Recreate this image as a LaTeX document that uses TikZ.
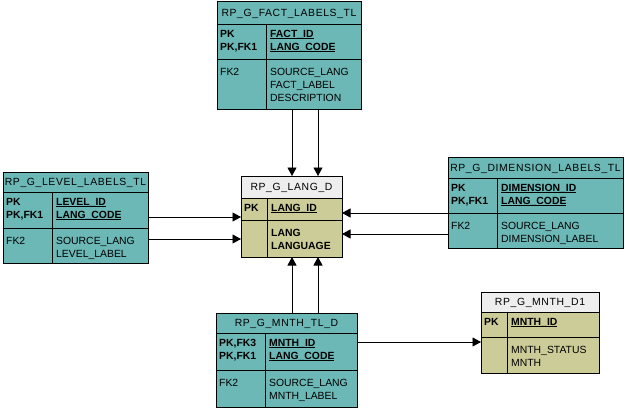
\documentclass[tikz,border=0pt]{standalone}
\usepackage{fontspec}
\setmainfont{Liberation Sans}
\newfontfamily\ttlfont[LetterSpace=6]{Liberation Sans}
\usetikzlibrary{arrows.meta}
\definecolor{tealbody}{RGB}{108,184,182}
\definecolor{tealtitle}{RGB}{108,184,182}
\definecolor{khakibody}{RGB}{204,204,153}
\definecolor{khakititle}{RGB}{238,238,238}
\newcommand\ulin[1]{\setbox0\hbox{#1}\rlap{\rule[-2.2pt]{\wd0}{0.9pt}}\box0}
\newcommand\cell[1]{\begin{tabular}[t]{@{}l@{}}#1\end{tabular}}
\newcommand\erbox[9]{%
 \node[draw=none, fill=#9body, anchor=north west, inner sep=0pt, outer sep=0pt,
   minimum width=#4pt-#2pt, minimum height=#5pt-#3pt] (#1) at (#2,#3) {};
 \fill[#9title] (#2,#3) rectangle (#4,#6);
 \draw[tline] (#2,#6) -- (#4,#6) (#2,#7) -- (#4,#7) (#8,#6) -- (#8,#5);
 \draw[tline] (#1.north west) rectangle (#1.south east);
}
\tikzset{
 tline/.style={line width=0.9pt, black},
 ttl/.style={anchor=base, inner sep=0pt, font=\fontsize{10.4}{13}\ttlfont},
 txt/.style={anchor=base west, inner sep=0pt, font=\fontsize{10.4}{13}\selectfont},
 btxt/.style={anchor=base west, inner sep=0pt, font=\fontsize{10.4}{13}\selectfont\bfseries},
 arr/.style={line width=0.9pt, -{Triangle[length=8.5pt,width=9pt]}}
}
\begin{document}
\begin{tikzpicture}[x=1pt,y=-1pt]
\useasboundingbox (0,0) rectangle (625,410);

% FACT
\erbox{fact}{217}{1}{361}{109}{24}{59}{266}{teal}
\node[ttl] (factT) at (289,16.2) {RP\_G\_FACT\_LABELS\_TL};
\node[btxt] (factK) at (220,37) {\cell{PK\\PK,FK1}};
\node[btxt] (factN) at (270,37) {\cell{\ulin{FACT\_ID}\\\ulin{LANG\_CODE}}};
\node[txt] (factF) at (220,75) {FK2};
\node[txt] (factB) at (270,75) {\cell{SOURCE\_LANG\\FACT\_LABEL\\DESCRIPTION}};

% LEVEL
\erbox{level}{3}{172}{148}{263}{192}{228}{52}{teal}
\node[ttl] (levelT) at (75.5,185.7) {RP\_G\_LEVEL\_LABELS\_TL};
\node[btxt] (levelK) at (6,205) {\cell{PK\\PK,FK1}};
\node[btxt] (levelN) at (56,205) {\cell{\ulin{LEVEL\_ID}\\\ulin{LANG\_CODE}}};
\node[txt] (levelF) at (6,244) {FK2};
\node[txt] (levelB) at (56,244) {\cell{SOURCE\_LANG\\LEVEL\_LABEL}};

% LANG_D
\erbox{lang}{241}{176}{342}{257}{198}{220}{267}{khaki}
\node[ttl] (langT) at (291.5,190.7) {RP\_G\_LANG\_D};
\node[btxt] (langK) at (244,211) {PK};
\node[btxt] (langN) at (271,211) {\ulin{LANG\_ID}};
\node[btxt] (langB) at (271,236) {\cell{LANG\\LANGUAGE}};

% DIMENSION
\erbox{dim}{448}{157}{623}{248}{178}{213}{497}{teal}
\node[ttl] (dimT) at (535.5,171.2) {RP\_G\_DIMENSION\_LABELS\_TL};
\node[btxt] (dimK) at (451,191) {\cell{PK\\PK,FK1}};
\node[btxt] (dimN) at (501,191) {\cell{\ulin{DIMENSION\_ID}\\\ulin{LANG\_CODE}}};
\node[txt] (dimF) at (451,229) {FK2};
\node[txt] (dimB) at (501,229) {\cell{SOURCE\_LANG\\DIMENSION\_LABEL}};

% MNTH_TL
\erbox{mtl}{216}{313}{357}{407}{333}{370}{265}{teal}
\node[ttl] (mtlT) at (286.5,326.7) {RP\_G\_MNTH\_TL\_D};
\node[btxt] (mtlK) at (219,346) {\cell{PK,FK3\\PK,FK1}};
\node[btxt] (mtlN) at (269,346) {\cell{\ulin{MNTH\_ID}\\\ulin{LANG\_CODE}}};
\node[txt] (mtlF) at (219,386) {FK2};
\node[txt] (mtlB) at (269,386) {\cell{SOURCE\_LANG\\MNTH\_LABEL}};

% MNTH_D1
\erbox{md}{481}{292}{599}{373}{312}{337}{507}{khaki}
\node[ttl] (mdT) at (540,305.7) {RP\_G\_MNTH\_D1};
\node[btxt] (mdK) at (484,325) {PK};
\node[btxt] (mdN) at (511,325) {\ulin{MNTH\_ID}};
\node[txt] (mdB) at (511,353) {\cell{MNTH\_STATUS\\MNTH}};

% connectors
\draw[arr] ([xshift=75pt]fact.south west) -- ([xshift=51pt]lang.north west);
\draw[arr] ([xshift=101pt]fact.south west) -- ([xshift=77pt]lang.north west);
\draw[arr] ([yshift=-45pt]level.north east) -- ([yshift=-41pt]lang.north west);
\draw[arr] ([yshift=-67pt]level.north east) -- ([yshift=-63pt]lang.north west);
\draw[arr] ([yshift=-56pt]dim.north west) -- ([yshift=-37pt]lang.north east);
\draw[arr] ([yshift=-77pt]dim.north west) -- ([yshift=-58pt]lang.north east);
\draw[arr] ([xshift=76pt]mtl.north west) -- ([xshift=51pt]lang.south west);
\draw[arr] ([xshift=102pt]mtl.north west) -- ([xshift=77pt]lang.south west);
\draw[arr] ([yshift=-29pt]mtl.north east) -- ([yshift=-50pt]md.north west);
\end{tikzpicture}
\end{document}
